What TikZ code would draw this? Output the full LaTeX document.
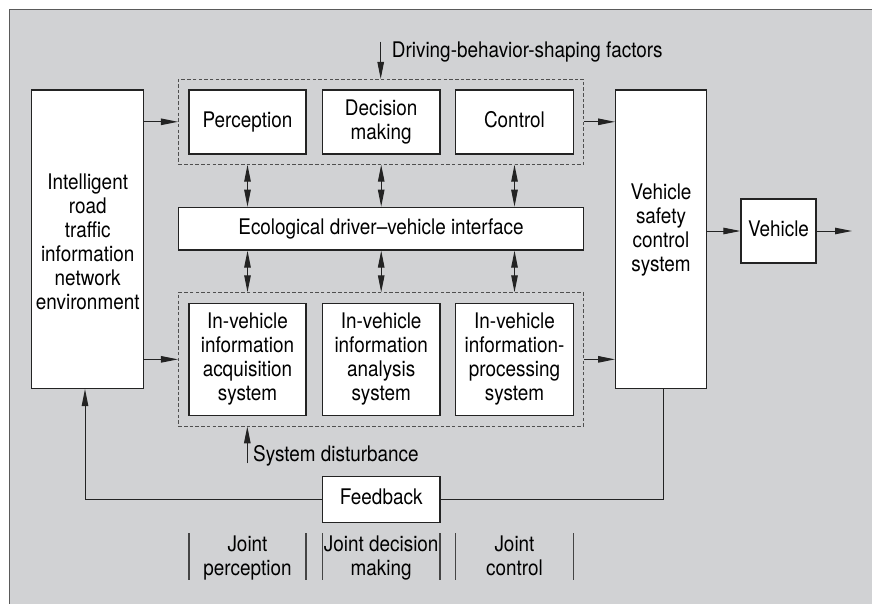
\documentclass[tikz,border=0pt]{standalone}
\usepackage{fontspec}
\setmainfont{TeX Gyre Heros}[FakeStretch=0.88]
\usetikzlibrary{arrows.meta,calc}
\definecolor{bggray}{RGB}{209,210,212}
\definecolor{ink}{RGB}{35,35,35}
\newcommand\figfont{\fontsize{21.5}{24}\selectfont}
\newcommand\hs[1][15.7pt]{\rule{0pt}{#1}}
\newcommand\ds{\rule[-5pt]{0pt}{5pt}}
\begin{document}
\begin{tikzpicture}[x=1pt,y=-1pt,
  box/.style={draw=ink,line width=1.3pt,fill=white,inner sep=0pt,align=center,font=\figfont},
  grp/.style={draw=ink!80,dash pattern=on 3.5pt off 2.2pt,line width=0.8pt,inner sep=0pt},
  conn/.style={draw=ink,line width=1pt},
  tip/.tip={Triangle[length=17pt,width=6.5pt]},
  arr/.style={conn,-tip},
  darr/.style={conn,tip-tip},
  lbl/.style={inner sep=0pt,align=center,font=\figfont},
  sep/.style={draw=ink!85,line width=1.2pt},
]
\useasboundingbox (0,0) rectangle (872,604);
\fill[bggray] (9,9.3) rectangle (880,612);
\draw[ink!75,line width=1pt] (9,612) -- (9,9.3) -- (880,9.3);

% left environment box
\node[box,minimum width=112pt,minimum height=298.3pt] (env) at (87.7,239.2)
  {\hs[24.7pt]Intelligent\\road\\traffic\\information\\network\\environment\ds};

% top group
\node[grp,minimum width=405.4pt,minimum height=85pt] (topgrp) at (381,121.8) {};
\node[box,minimum width=117pt,minimum height=64pt] (perc) at (247.5,122) {\hs Perception\ds};
\node[box,minimum width=117.7pt,minimum height=64pt] (dec) at (381.2,122) {\hs Decision\\making\ds};
\node[box,minimum width=117.6pt,minimum height=64pt] (ctrl) at (514.5,122) {\hs Control\ds};

% interface
\node[box,minimum width=405.4pt,minimum height=42.7pt] (eco) at (381,228.65)
  {\hs Ecological driver–vehicle interface\ds};

% bottom group
\node[grp,minimum width=405.4pt,minimum height=133.3pt] (botgrp) at (381,359.35) {};
\node[box,minimum width=117pt,minimum height=112.4pt] (acq) at (247.5,359.5)
  {\hs In-vehicle\\information\\acquisition\\system\ds};
\node[box,minimum width=117.7pt,minimum height=112.4pt] (ana) at (381.2,359.5)
  {\hs In-vehicle\\information\\analysis\\system\ds};
\node[box,minimum width=117.6pt,minimum height=112.4pt] (proc) at (514.5,359.5)
  {\hs In-vehicle\\information-\\processing\\system\ds};

% safety control
\node[box,minimum width=90.6pt,minimum height=298.3pt] (safety) at (661,239.2) {};
\node[lbl] (safetyT) at (661,230.6) {\hs Vehicle\\safety\\control\\system\ds};

% vehicle
\node[box,minimum width=75pt,minimum height=64pt] (veh) at (778.5,231) {\hs Vehicle\ds};

% feedback
\node[box,minimum width=117.7pt,minimum height=45.6pt] (fb) at (381.2,499.5) {\hs Feedback\ds};

% connectors
\draw[arr] (env.east |- topgrp.west) -- (topgrp.west);
\draw[arr] (env.east |- botgrp.west) -- (botgrp.west);
\draw[arr] (topgrp.east) -- (safety.west |- topgrp.east);
\draw[arr] (botgrp.east) -- (safety.west |- botgrp.east);
\draw[arr] (safety.east |- veh.west) -- (veh.west);
\coordinate (out) at (852,231);
\draw[arr] (veh.east) -- (out);

\foreach \n in {perc,dec,ctrl} {
  \draw[darr] (topgrp.south -| \n.south) -- (eco.north -| \n.north);
  \draw[darr] (eco.south -| \n.south) -- (botgrp.north -| \n.north);
}

% driving factors
\coordinate (drv0) at (380.7,41.7);
\draw[arr] (drv0) -- (drv0 |- topgrp.north);
\node[lbl,anchor=base west] (drv) at (391.7,57.3) {Driving-behavior-shaping factors};

% disturbance
\coordinate (sd0) at (247.3,463.3);
\draw[arr] (sd0) -- (sd0 |- botgrp.south);
\node[lbl,anchor=base west] (sd) at (253,461) {System disturbance};

% feedback loop
\coordinate (fbR) at (663.3,0);
\coordinate (fbL) at (85,0);
\draw[conn] (safety.south -| fbR) |- (fb.east);
\draw[arr] (fb.west) -| (env.south -| fbL);

% joint labels
\node[lbl] (jp) at (247.5,558.6) {\hs Joint\\perception\ds};
\node[lbl] (jd) at (381.2,558.6) {\hs Joint decision\\making\ds};
\node[lbl] (jc) at (514.5,558.6) {\hs Joint\\control\ds};
\foreach \x in {189,306,322.3,440,455.7,573.3}
  \draw[sep] (\x,533.3) -- (\x,580);
\end{tikzpicture}
\end{document}
